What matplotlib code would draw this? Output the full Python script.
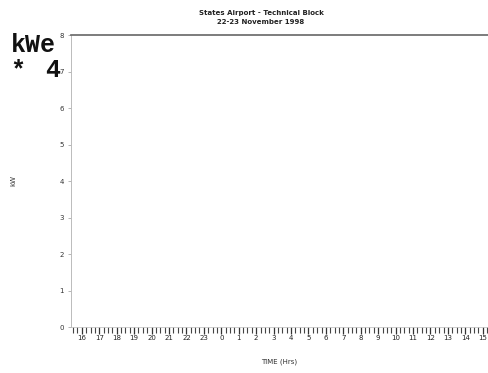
import numpy as np
import matplotlib
matplotlib.use("Agg")
import matplotlib.pyplot as plt
from matplotlib import ticker

# hourly axis, 16:00 on the 22nd to 15:00 on the 23rd
hour_labels = [16, 17, 18, 19, 20, 21, 22, 23, 0, 1, 2, 3, 4, 5, 6, 7, 8, 9, 10, 11, 12, 13, 14, 15]
y_ticks = [0, 1, 2, 3, 4, 5, 6, 7, 8]
title_lines = ["States Airport - Technical Block", "22-23 November 1998"]

fig = plt.figure(figsize=(4.88, 3.73), dpi=100)
ax = fig.add_axes([0.1455, 0.1233, 0.8545, 0.7827])

x = np.arange(len(hour_labels))
ax.set_xlim(x[0] - 0.62, x[-1] + 0.3)
ax.set_ylim(y_ticks[0], y_ticks[-1])

ax.set_xticks(x)
ax.set_xticklabels([str(h) for h in hour_labels])
ax.xaxis.set_minor_locator(ticker.MultipleLocator(0.25))
ax.set_yticks(y_ticks)

ax.tick_params(axis="x", which="major", length=5, width=0.9, color="#333333",
               labelsize=5, labelcolor="#222222", pad=1)
ax.tick_params(axis="x", which="minor", length=4, width=0.8, color="#444444")
ax.tick_params(axis="y", length=2, width=0.6, color="#aaaaaa",
               labelsize=5, labelcolor="#333333", pad=3)

ax.spines["right"].set_visible(False)
ax.spines["top"].set_color("#666666")
ax.spines["top"].set_linewidth(1.2)
ax.spines["left"].set_color("#bbbbbb")
ax.spines["left"].set_linewidth(0.7)
ax.spines["bottom"].set_color("#bbbbbb")
ax.spines["bottom"].set_linewidth(0.5)

ax.set_xlabel("TIME (Hrs)", fontsize=5, color="#333333", labelpad=12)
fig.text(0.028, 0.515, "kW", fontsize=5, color="#333333", rotation=90,
         ha="center", va="center")

fig.text(0.535, 0.965, title_lines[0], ha="center", va="center", fontsize=5,
         color="#222222", fontweight="bold")
fig.text(0.535, 0.94, title_lines[1], ha="center", va="center", fontsize=5,
         color="#222222", fontweight="bold")

big = dict(fontsize=18, fontweight="bold", family="Liberation Mono",
           color="#111111", va="center")
fig.text(0.022, 0.88, "kWe", ha="left", **big)
fig.text(0.022, 0.812, "*", ha="left", **big)
fig.text(0.124, 0.812, "4", ha="right", **big)

fig.savefig("out.png", dpi=100)
